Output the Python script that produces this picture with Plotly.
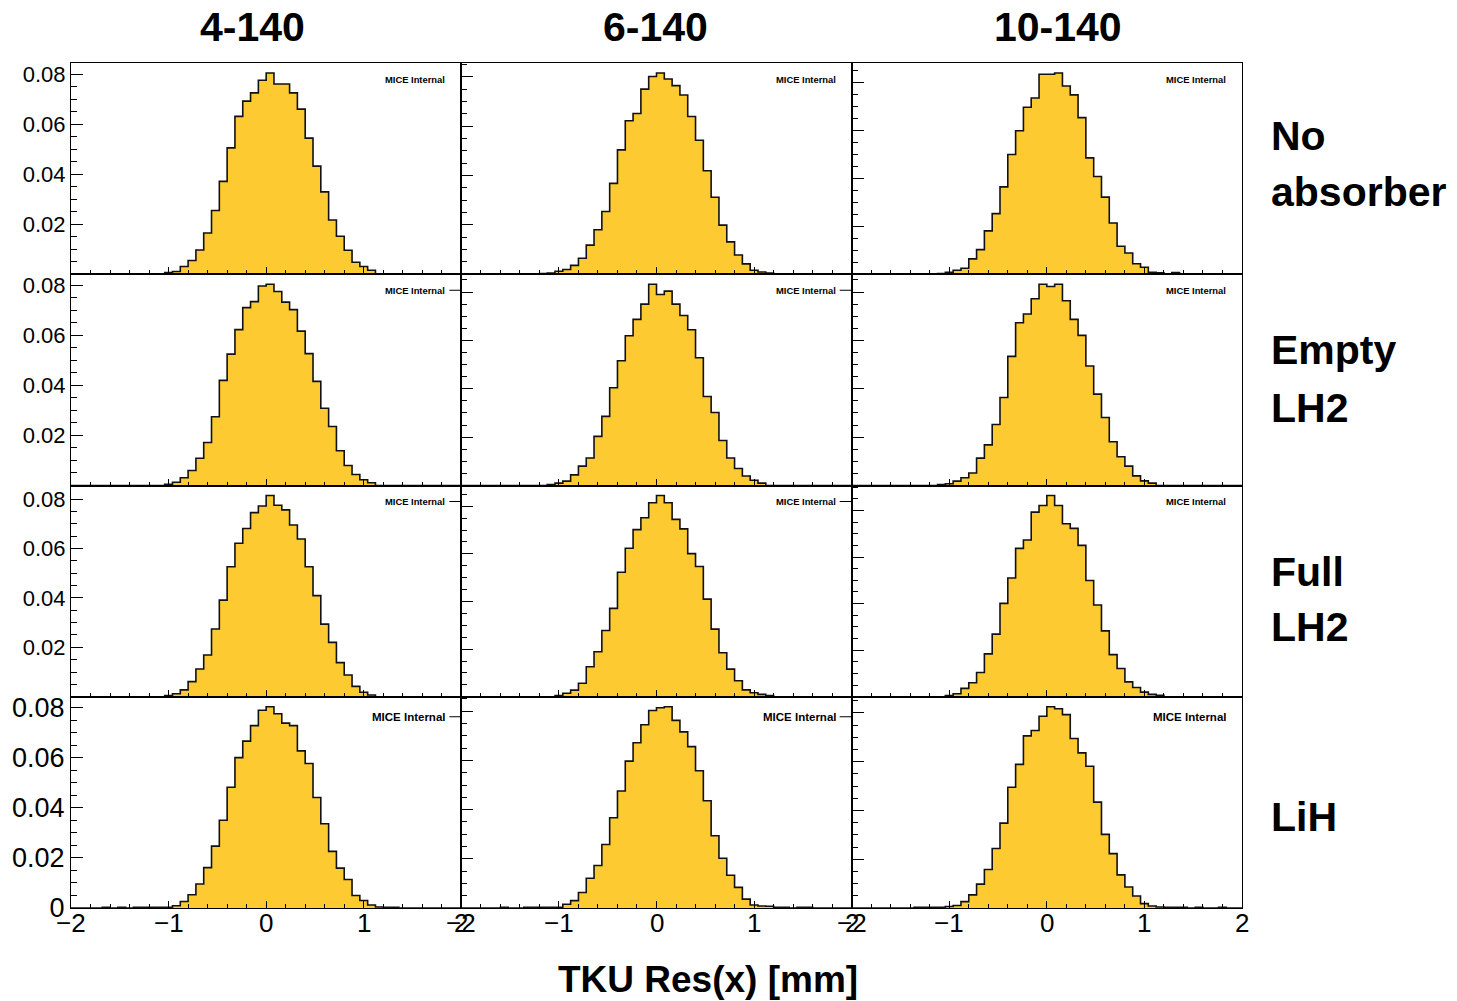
import plotly.graph_objects as go
from plotly.subplots import make_subplots

# ---------------- data ----------------
columns = ["4-140", "6-140", "10-140"]
row_labels = [["No", "absorber"], ["Empty", "LH2"], ["Full", "LH2"], ["LiH"]]
x_title = "TKU Res(x) [mm]"
stamp = "MICE Internal"

x_lo, x_hi, n_bins = -2.0, 2.0, 50
x_tickvals = [-2, -1, 0, 1, 2]
x_ticktext = ["\u22122", "\u22121", "0", "1", "2"]
y_tickvals = [0, 0.02, 0.04, 0.06, 0.08]
y_ticktext = ["0", "0.02", "0.04", "0.06", "0.08"]

# normalised bin contents (50 bins of 0.08 mm from -2 to 2)
no_abs_4 = [0, 0, 0, 0, 0, 0, 0, 0, 0, 0,
            0, 0, 0.0007, 0.0011, 0.0031, 0.0055, 0.0097, 0.0165, 0.0255, 0.0371,
            0.0505, 0.0631, 0.0692, 0.0725, 0.0775, 0.0804, 0.0760, 0.0760, 0.0725, 0.0660,
            0.0544, 0.0432, 0.0329, 0.0217, 0.0152, 0.0096, 0.0048, 0.0031, 0.0016, 0,
            0, 0, 0, 0, 0, 0, 0, 0, 0, 0]
no_abs_6 = [0, 0, 0, 0, 0, 0, 0, 0, 0, 0,
            0.0003, 0.0005, 0.0012, 0.0019, 0.0036, 0.0065, 0.0118, 0.0180, 0.0254, 0.0368,
            0.0504, 0.0622, 0.0651, 0.0750, 0.0801, 0.0815, 0.0791, 0.0764, 0.0726, 0.0639,
            0.0543, 0.0419, 0.0312, 0.0199, 0.0131, 0.0078, 0.0042, 0.0016, 0.0009, 0.0005,
            0, 0, 0, 0, 0, 0, 0, 0, 0, 0]
no_abs_10 = [0, 0, 0, 0, 0, 0, 0, 0, 0, 0,
             0, 0.0003, 0.0008, 0.0017, 0.0025, 0.0064, 0.0103, 0.0181, 0.0253, 0.0365,
             0.0500, 0.0599, 0.0697, 0.0736, 0.0835, 0.0835, 0.0840, 0.0786, 0.0749, 0.0654,
             0.0486, 0.0408, 0.0322, 0.0214, 0.0117, 0.0089, 0.0044, 0.0029, 0.0008, 0.0006,
             0, 0.0007, 0, 0, 0, 0, 0, 0, 0, 0]
empty_4 = [0, 0, 0, 0, 0, 0, 0, 0, 0, 0,
           0, 0, 0.0005, 0.0013, 0.0031, 0.0060, 0.0109, 0.0172, 0.0275, 0.0420,
           0.0525, 0.0623, 0.0711, 0.0735, 0.0797, 0.0804, 0.0775, 0.0733, 0.0703, 0.0617,
           0.0527, 0.0416, 0.0309, 0.0236, 0.0139, 0.0080, 0.0044, 0.0023, 0.0011, 0,
           0, 0, 0, 0, 0, 0, 0, 0, 0, 0]
empty_6 = [0, 0, 0, 0, 0, 0, 0, 0, 0, 0,
           0, 0.0004, 0.0010, 0.0018, 0.0044, 0.0080, 0.0114, 0.0203, 0.0286, 0.0404,
           0.0516, 0.0619, 0.0687, 0.0750, 0.0832, 0.0790, 0.0804, 0.0750, 0.0703, 0.0644,
           0.0528, 0.0368, 0.0302, 0.0186, 0.0114, 0.0070, 0.0039, 0.0022, 0.0010, 0,
           0, 0, 0, 0, 0, 0, 0, 0, 0, 0]
empty_10 = [0, 0, 0, 0, 0, 0, 0, 0, 0, 0,
            0, 0.0004, 0.0007, 0.0018, 0.0032, 0.0052, 0.0113, 0.0168, 0.0252, 0.0364,
            0.0534, 0.0673, 0.0709, 0.0772, 0.0832, 0.0823, 0.0832, 0.0764, 0.0687, 0.0621,
            0.0494, 0.0378, 0.0281, 0.0181, 0.0119, 0.0080, 0.0040, 0.0019, 0.0010, 0,
            0, 0, 0, 0, 0, 0, 0, 0, 0, 0]
full_4 = [0, 0, 0, 0, 0, 0, 0, 0, 0, 0,
          0, 0, 0.0005, 0.0012, 0.0028, 0.0061, 0.0112, 0.0169, 0.0274, 0.0391,
          0.0526, 0.0621, 0.0681, 0.0745, 0.0772, 0.0814, 0.0775, 0.0756, 0.0695, 0.0638,
          0.0526, 0.0409, 0.0294, 0.0220, 0.0138, 0.0088, 0.0042, 0.0018, 0.0007, 0,
          0, 0, 0, 0, 0, 0, 0, 0, 0, 0]
full_6 = [0, 0, 0, 0, 0, 0, 0, 0, 0, 0,
          0, 0, 0.0005, 0.0015, 0.0028, 0.0057, 0.0126, 0.0189, 0.0278, 0.0371,
          0.0523, 0.0624, 0.0702, 0.0752, 0.0815, 0.0845, 0.0815, 0.0745, 0.0705, 0.0601,
          0.0547, 0.0410, 0.0284, 0.0185, 0.0116, 0.0067, 0.0029, 0.0017, 0.0010, 0.0005,
          0, 0, 0, 0, 0, 0, 0, 0, 0, 0]
full_10 = [0, 0, 0, 0, 0, 0, 0, 0, 0, 0,
           0, 0, 0.0005, 0.0013, 0.0036, 0.0060, 0.0104, 0.0184, 0.0269, 0.0401,
           0.0510, 0.0637, 0.0673, 0.0793, 0.0821, 0.0864, 0.0821, 0.0743, 0.0723, 0.0650,
           0.0499, 0.0394, 0.0283, 0.0181, 0.0121, 0.0064, 0.0040, 0.0020, 0.0010, 0.0006,
           0, 0, 0, 0, 0, 0, 0, 0, 0, 0]
lih_4 = [0, 0, 0, 0, 0.0003, 0, 0.0003, 0, 0.0003, 0.0003,
         0.0003, 0.0003, 0.0003, 0.0009, 0.0026, 0.0053, 0.0096, 0.0161, 0.0247, 0.0350,
         0.0482, 0.0600, 0.0666, 0.0728, 0.0789, 0.0803, 0.0775, 0.0738, 0.0728, 0.0627,
         0.0577, 0.0441, 0.0336, 0.0226, 0.0159, 0.0114, 0.0050, 0.0030, 0.0012, 0.0004,
         0.0003, 0.0003, 0, 0, 0, 0, 0, 0, 0, 0]
lih_6 = [0, 0, 0, 0, 0, 0.0003, 0, 0, 0.0003, 0.0003,
         0.0003, 0.0003, 0.0003, 0.0015, 0.0030, 0.0063, 0.0121, 0.0173, 0.0258, 0.0367,
         0.0476, 0.0597, 0.0672, 0.0745, 0.0803, 0.0814, 0.0818, 0.0763, 0.0716, 0.0656,
         0.0558, 0.0436, 0.0294, 0.0202, 0.0133, 0.0084, 0.0036, 0.0012, 0.0008, 0.0007,
         0.0003, 0.0003, 0, 0.0003, 0.0003, 0, 0, 0, 0, 0]
lih_10 = [0, 0, 0, 0, 0, 0, 0, 0, 0.0003, 0.0003,
          0.0003, 0.0003, 0.0006, 0.0010, 0.0026, 0.0054, 0.0098, 0.0158, 0.0244, 0.0348,
          0.0495, 0.0589, 0.0706, 0.0728, 0.0786, 0.0825, 0.0817, 0.0793, 0.0695, 0.0636,
          0.0581, 0.0434, 0.0302, 0.0223, 0.0136, 0.0086, 0.0049, 0.0018, 0.0008, 0.0004,
          0.0003, 0.0003, 0.0003, 0, 0.0003, 0, 0, 0.0003, 0, 0]

panels = [[no_abs_4, no_abs_6, no_abs_10],
          [empty_4, empty_6, empty_10],
          [full_4, full_6, full_10],
          [lih_4, lih_6, lih_10]]

# ---------------- layout helpers ----------------
W, H = 1457, 1001
ML, MR, MT, MB = 68, 215, 63, 93
PW, PH = W - ML - MR, H - MT - MB
FILL = "#FECA32"
FONT = "Liberation Sans"


def px(x):
    return (x - ML) / PW


def py(y):
    return (H - MB - y) / PH


bin_w = (x_hi - x_lo) / n_bins
edges = [round(x_lo + i * bin_w, 6) for i in range(n_bins + 1)]

fig = make_subplots(rows=4, cols=3, horizontal_spacing=0, vertical_spacing=0)

for r in range(4):
    for c in range(3):
        vals = panels[r][c]
        fig.add_trace(
            go.Scatter(
                x=edges,
                y=list(vals) + [vals[-1]],
                mode="lines",
                line=dict(shape="hv", color="#111111", width=1.6),
                fill="tozeroy",
                fillcolor=FILL,
                showlegend=False,
                hoverinfo="skip",
            ),
            row=r + 1, col=c + 1,
        )
        fig.update_xaxes(
            range=[x_lo, x_hi], showgrid=False, zeroline=False,
            showline=True, mirror=True, linecolor="black", linewidth=1,
            ticks="inside", ticklen=7, tickwidth=1, tickcolor="black",
            tickmode="array", tickvals=x_tickvals, ticktext=x_ticktext,
            showticklabels=False,
            minor=dict(ticks="inside", tickmode="linear", tick0=0, dtick=0.2,
                       ticklen=4, tickwidth=1, tickcolor="black", showgrid=False),
            row=r + 1, col=c + 1,
        )
        ymax = max(vals) * 1.05
        if r == 3:
            tv, tt = y_tickvals, y_ticktext
        else:
            tv, tt = y_tickvals[1:], y_ticktext[1:]
        fig.update_yaxes(
            range=[0, ymax], showgrid=False, zeroline=False,
            showline=True, mirror=True, linecolor="black", linewidth=1,
            ticks="inside", ticklen=12, tickwidth=1, tickcolor="black",
            tickmode="array", tickvals=tv, ticktext=tt,
            showticklabels=(c == 0),
            tickfont=dict(family=FONT, size=27 if r == 3 else 22, color="black"),
            minor=dict(ticks="inside", tickmode="linear", tick0=0, dtick=0.005,
                       ticklen=6, tickwidth=1, tickcolor="black", showgrid=False),
            row=r + 1, col=c + 1,
        )

annotations = []
# x tick labels of the bottom row, placed on the bottom axes' own scales
for c in range(3):
    xref = "x%d" % (10 + c)
    for v, t in zip(x_tickvals, x_ticktext):
        annotations.append(dict(text=t, x=v, y=py(923), xref=xref, yref="paper",
                                showarrow=False, xanchor="center", yanchor="middle",
                                font=dict(family=FONT, size=26, color="black")))
# column titles
for name, xc in zip(columns, [250, 654, 1058]):
    annotations.append(dict(text=name, x=px(xc), y=py(27), xref="paper", yref="paper",
                            showarrow=False, xanchor="center", yanchor="middle",
                            font=dict(family=FONT, size=41, color="black", weight="bold")))
# row labels
row_y = [[136, 192], [350, 408], [572, 627], [817]]
for lines, ys in zip(row_labels, row_y):
    for t, yy in zip(lines, ys):
        annotations.append(dict(text=t, x=px(1269), y=py(yy), xref="paper", yref="paper",
                                showarrow=False, xanchor="left", yanchor="middle",
                                font=dict(family=FONT, size=41, color="black", weight="bold")))
# x title
annotations.append(dict(text=x_title, x=px(707), y=py(980), xref="paper", yref="paper",
                        showarrow=False, xanchor="center", yanchor="middle",
                        font=dict(family=FONT, size=37, color="black", weight="bold")))
# stamps
col_right = [ML + PW / 3 * (c + 1) for c in range(3)]
row_top = [MT + PH / 4 * r for r in range(4)]
shapes = []
for r in range(4):
    for c in range(3):
        big = (r == 3)
        annotations.append(dict(
            text=stamp, x=px(col_right[c] - 14), y=py(row_top[r] + (20 if big else 16)),
            xref="paper", yref="paper", showarrow=False, xanchor="right", yanchor="middle",
            font=dict(family=FONT, size=11.5 if big else 9.4, color="black", weight="bold")))
        if r > 0 and c < 2:
            yy = row_top[r] + (20 if big else 16)
            shapes.append(dict(type="line", xref="paper", yref="paper",
                               x0=px(col_right[c] - 12), x1=px(col_right[c]),
                               y0=py(yy), y1=py(yy), line=dict(color="black", width=1)))

fig.update_layout(
    width=W, height=H,
    margin=dict(l=ML, r=MR, t=MT, b=MB, pad=0),
    paper_bgcolor="white", plot_bgcolor="white",
    font=dict(family=FONT, color="black"),
    annotations=annotations,
    shapes=shapes,
    showlegend=False,
)

fig.write_html("out.html")
